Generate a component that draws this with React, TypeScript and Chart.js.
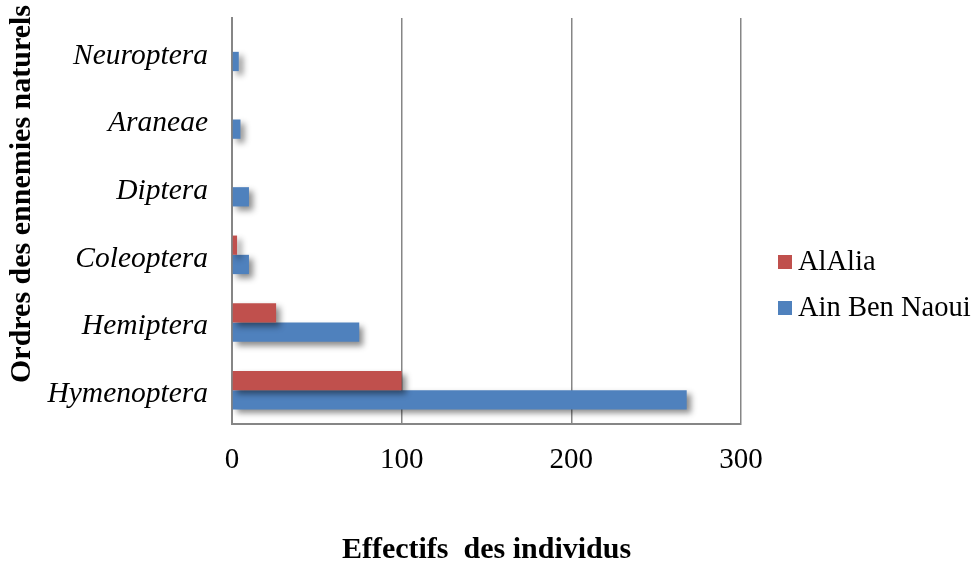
import React, { useEffect, useRef } from "react";
import { Chart, registerables } from "chart.js";

Chart.register(...registerables);

const categories = ["Neuroptera", "Araneae", "Diptera", "Coleoptera", "Hemiptera", "Hymenoptera"];
const seriesNames = ["AlAlia", "Ain Ben Naoui"];
const alAlia = [0, 0, 0, 3, 26, 100];
const ainBenNaoui = [4, 5, 10, 10, 75, 268];
const xTicks = [0, 100, 200, 300];
const colors = ["#C0504D", "#4F81BD"];
const xTitle = "Effectifs  des individus";
const yTitle = "Ordres des ennemies naturels";

const FONT = "'Liberation Serif', 'Times New Roman', serif";

const shadowPlugin = {
  id: "barShadow",
  beforeDatasetsDraw(chart: any) {
    const ctx = chart.ctx;
    ctx.save();
    ctx.shadowColor = "rgba(0,0,0,0.45)";
    ctx.shadowBlur = 6;
    ctx.shadowOffsetX = 4;
    ctx.shadowOffsetY = 4;
  },
  afterDatasetsDraw(chart: any) {
    chart.ctx.restore();
  },
};

const decorPlugin = {
  id: "decor",
  afterDraw(chart: any) {
    const ctx = chart.ctx;
    ctx.save();
    // y-axis title
    ctx.translate(22, 194);
    ctx.rotate(-Math.PI / 2);
    ctx.font = `bold 30px ${FONT}`;
    ctx.fillStyle = "#000";
    ctx.textAlign = "center";
    ctx.textBaseline = "middle";
    ctx.fillText(yTitle, 0, 0);
    ctx.restore();

    // legend
    ctx.save();
    ctx.font = `28.5px ${FONT}`;
    ctx.textBaseline = "middle";
    ctx.textAlign = "left";
    const items = chart.data.datasets;
    const ys = [262, 308];
    items.forEach((ds: any, i: number) => {
      const y = ys[i];
      ctx.fillStyle = ds.backgroundColor;
      ctx.fillRect(778, y - 7, 14, 14);
      ctx.fillStyle = "#000";
      ctx.fillText(ds.label, 798, y + 1);
    });
    ctx.restore();
  },
};

export default function App() {
  const ref = useRef<HTMLCanvasElement>(null);
  useEffect(() => {
    document.body.style.margin = "0";
    const chart = new Chart(ref.current!, {
      type: "bar",
      data: {
        labels: categories,
        datasets: [
          { label: seriesNames[0], data: alAlia, backgroundColor: colors[0] },
          { label: seriesNames[1], data: ainBenNaoui, backgroundColor: colors[1] },
        ],
      },
      options: {
        indexAxis: "y",
        responsive: false,
        animation: false,
        layout: { padding: { top: 18, left: 0, right: 235, bottom: 0 } },
        datasets: { bar: { categoryPercentage: 0.57, barPercentage: 1 } },
        plugins: { legend: { display: false }, tooltip: { enabled: false } },
        scales: {
          x: {
            min: 0,
            max: 300,
            afterFit(scale: any) {
              scale.height = 141;
              scale.paddingLeft = 0;
              scale.paddingRight = 0;
            },
            afterBuildTicks(scale: any) {
              scale.ticks = xTicks.map((v) => ({ value: v }));
            },
            ticks: {
              color: "#000",
              padding: 19,
              font: { family: FONT, size: 29 },
            },
            grid: { color: "#868686", lineWidth: 1.5, drawTicks: false },
            border: { display: true, color: "#868686", width: 2 },
            title: {
              display: true,
              text: xTitle,
              color: "#000",
              font: { family: FONT, size: 30, weight: "bold", lineHeight: 1 },
              padding: { top: 0, bottom: 0 },
            },
          },
          y: {
            afterFit(scale: any) {
              scale.width = 232;
              scale.paddingTop = 0;
              scale.paddingBottom = 0;
            },
            ticks: {
              color: "#000",
              padding: 24,
              labelOffset: 4,
              font: { family: FONT, size: 29.5, style: "italic" },
            },
            grid: { display: false, drawTicks: false },
            border: { display: true, color: "#868686", width: 2 },
          },
        },
      },
      plugins: [shadowPlugin, decorPlugin],
    } as any);
    return () => chart.destroy();
  }, []);
  return (
    <div style={{ position: "absolute", left: 0, top: 0, width: 976, height: 565 }}>
      <canvas ref={ref} width={976} height={565} />
    </div>
  );
}
